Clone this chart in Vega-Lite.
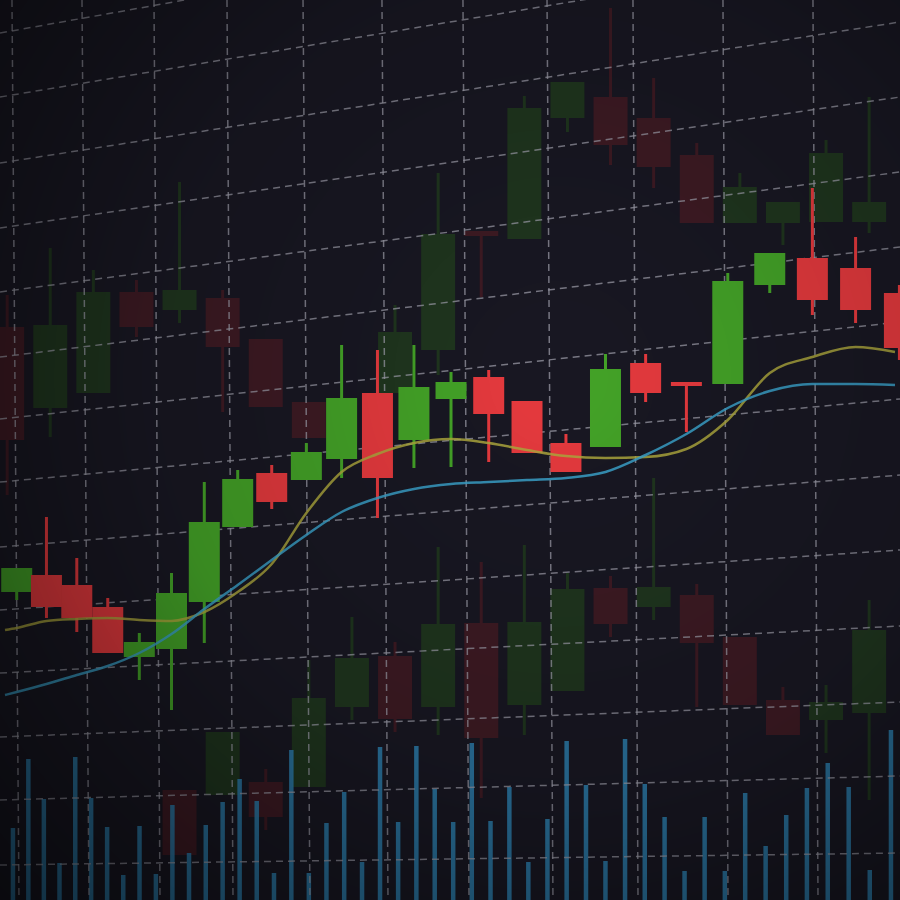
{
  "$schema": "https://vega.github.io/schema/vega-lite/v6.json",
  "width": 900,
  "height": 900,
  "padding": 0,
  "autosize": "none",
  "background": "#181722",
  "config": {"view": {"stroke": null}},
  "datasets": {
    "main": [
      {"day": 48, "open": 30.8, "close": 33.2, "high": 33.2, "low": 30.0},
      {"day": 49, "open": 32.5, "close": 29.3, "high": 38.3, "low": 28.2},
      {"day": 50, "open": 31.5, "close": 28.2, "high": 34.2, "low": 26.8},
      {"day": 51, "open": 29.3, "close": 24.7, "high": 30.2, "low": 24.7},
      {"day": 52, "open": 24.3, "close": 25.8, "high": 26.7, "low": 22.0},
      {"day": 53, "open": 25.1, "close": 30.7, "high": 32.7, "low": 19.0},
      {"day": 54, "open": 29.8, "close": 37.8, "high": 41.8, "low": 25.7},
      {"day": 55, "open": 37.3, "close": 42.1, "high": 43.0, "low": 37.3},
      {"day": 56, "open": 42.7, "close": 39.8, "high": 43.5, "low": 39.1},
      {"day": 57, "open": 42.0, "close": 44.8, "high": 45.7, "low": 42.0},
      {"day": 58, "open": 44.1, "close": 50.2, "high": 55.5, "low": 42.2},
      {"day": 59, "open": 50.7, "close": 42.2, "high": 55.0, "low": 38.2},
      {"day": 60, "open": 46.0, "close": 51.3, "high": 55.5, "low": 43.2},
      {"day": 61, "open": 50.1, "close": 51.8, "high": 52.8, "low": 43.3},
      {"day": 62, "open": 52.3, "close": 48.6, "high": 53.0, "low": 43.8},
      {"day": 63, "open": 49.9, "close": 44.7, "high": 49.9, "low": 44.7},
      {"day": 64, "open": 45.7, "close": 42.8, "high": 46.6, "low": 42.8},
      {"day": 65, "open": 45.3, "close": 53.1, "high": 54.6, "low": 45.3},
      {"day": 66, "open": 53.7, "close": 50.7, "high": 54.6, "low": 49.8},
      {"day": 67, "open": 51.8, "close": 51.4, "high": 51.8, "low": 46.8},
      {"day": 68, "open": 51.6, "close": 61.9, "high": 62.7, "low": 51.6},
      {"day": 69, "open": 61.5, "close": 64.7, "high": 64.7, "low": 60.7},
      {"day": 70, "open": 64.2, "close": 60.0, "high": 71.2, "low": 58.5},
      {"day": 71, "open": 63.2, "close": 59.0, "high": 66.3, "low": 57.7},
      {"day": 72, "open": 60.7, "close": 55.2, "high": 61.5, "low": 54.0}
    ],
    "faded": [
      {"slot": 0, "open": 57.3, "close": 46.0, "high": 60.5, "low": 40.5},
      {"slot": 1, "open": 49.2, "close": 57.5, "high": 65.2, "low": 46.3},
      {"slot": 2, "open": 50.7, "close": 60.8, "high": 63.0, "low": 50.7},
      {"slot": 3, "open": 60.8, "close": 57.3, "high": 62.0, "low": 56.3},
      {"slot": 4, "open": 59.0, "close": 61.0, "high": 71.8, "low": 57.7},
      {"slot": 5, "open": 60.2, "close": 55.3, "high": 61.0, "low": 48.8},
      {"slot": 6, "open": 56.1, "close": 49.3, "high": 56.1, "low": 49.3},
      {"slot": 7, "open": 49.8, "close": 46.2, "high": 49.8, "low": 46.2},
      {"slot": 9, "open": 50.7, "close": 56.8, "high": 59.5, "low": 50.7},
      {"slot": 10, "open": 55.0, "close": 66.6, "high": 72.7, "low": 52.5},
      {"slot": 11, "open": 66.9, "close": 66.4, "high": 66.9, "low": 60.3},
      {"slot": 12, "open": 66.1, "close": 79.2, "high": 80.4, "low": 66.1},
      {"slot": 13, "open": 78.2, "close": 81.8, "high": 81.8, "low": 76.8},
      {"slot": 14, "open": 80.3, "close": 75.5, "high": 89.2, "low": 73.5},
      {"slot": 15, "open": 78.2, "close": 73.3, "high": 82.2, "low": 71.2},
      {"slot": 16, "open": 74.5, "close": 67.7, "high": 75.7, "low": 67.7},
      {"slot": 17, "open": 67.7, "close": 71.3, "high": 72.7, "low": 67.7},
      {"slot": 18, "open": 67.7, "close": 69.8, "high": 69.8, "low": 65.5},
      {"slot": 19, "open": 67.8, "close": 74.7, "high": 76.0, "low": 67.8},
      {"slot": 20, "open": 67.8, "close": 69.8, "high": 80.3, "low": 66.7},
      {"slot": 4, "open": 11.0, "close": 4.5, "high": 11.0, "low": 4.5},
      {"slot": 5, "open": 10.5, "close": 16.8, "high": 16.8, "low": 10.5},
      {"slot": 6, "open": 11.8, "close": 8.3, "high": 13.1, "low": 7.0},
      {"slot": 7, "open": 11.3, "close": 20.2, "high": 24.0, "low": 11.3},
      {"slot": 8, "open": 19.3, "close": 24.2, "high": 28.3, "low": 18.0},
      {"slot": 9, "open": 24.4, "close": 18.1, "high": 25.8, "low": 16.8},
      {"slot": 10, "open": 19.3, "close": 27.6, "high": 35.3, "low": 16.5},
      {"slot": 11, "open": 27.7, "close": 16.2, "high": 33.8, "low": 10.2},
      {"slot": 12, "open": 19.5, "close": 27.8, "high": 35.5, "low": 16.5},
      {"slot": 13, "open": 20.9, "close": 31.1, "high": 32.7, "low": 20.9},
      {"slot": 14, "open": 31.2, "close": 27.6, "high": 32.4, "low": 26.3},
      {"slot": 15, "open": 29.3, "close": 31.3, "high": 42.2, "low": 28.0},
      {"slot": 16, "open": 30.5, "close": 25.7, "high": 31.6, "low": 19.3},
      {"slot": 17, "open": 26.3, "close": 19.5, "high": 26.3, "low": 19.5},
      {"slot": 18, "open": 20.0, "close": 16.5, "high": 21.3, "low": 16.5},
      {"slot": 19, "open": 18.0, "close": 19.8, "high": 21.5, "low": 14.7},
      {"slot": 20, "open": 18.7, "close": 27.0, "high": 30.0, "low": 10.0}
    ],
    "volume": [
      {"bar": 124, "vol": 72}, {"bar": 125, "vol": 141}, {"bar": 126, "vol": 101}, {"bar": 127, "vol": 37},
      {"bar": 128, "vol": 143}, {"bar": 129, "vol": 102}, {"bar": 130, "vol": 73}, {"bar": 131, "vol": 25},
      {"bar": 132, "vol": 74}, {"bar": 133, "vol": 26}, {"bar": 134, "vol": 95}, {"bar": 135, "vol": 47},
      {"bar": 136, "vol": 75}, {"bar": 137, "vol": 98}, {"bar": 138, "vol": 121}, {"bar": 139, "vol": 99},
      {"bar": 140, "vol": 27}, {"bar": 141, "vol": 150}, {"bar": 142, "vol": 27}, {"bar": 143, "vol": 77},
      {"bar": 144, "vol": 108}, {"bar": 145, "vol": 38}, {"bar": 146, "vol": 153}, {"bar": 147, "vol": 78},
      {"bar": 148, "vol": 154}, {"bar": 149, "vol": 111}, {"bar": 150, "vol": 78}, {"bar": 151, "vol": 157},
      {"bar": 152, "vol": 79}, {"bar": 153, "vol": 113}, {"bar": 154, "vol": 38}, {"bar": 155, "vol": 81},
      {"bar": 156, "vol": 159}, {"bar": 157, "vol": 115}, {"bar": 158, "vol": 39}, {"bar": 159, "vol": 161},
      {"bar": 160, "vol": 116}, {"bar": 161, "vol": 83}, {"bar": 162, "vol": 29}, {"bar": 163, "vol": 83},
      {"bar": 164, "vol": 29}, {"bar": 165, "vol": 107}, {"bar": 166, "vol": 54}, {"bar": 167, "vol": 85},
      {"bar": 168, "vol": 112}, {"bar": 169, "vol": 137}, {"bar": 170, "vol": 113}, {"bar": 171, "vol": 30},
      {"bar": 172, "vol": 170}
    ],
    "ma": [
      {"day": 47.6, "value": 27.0, "series": "MA slow"}, {"day": 48, "value": 27.2, "series": "MA slow"},
      {"day": 49, "value": 27.9, "series": "MA slow"}, {"day": 50, "value": 28.1, "series": "MA slow"},
      {"day": 51, "value": 28.2, "series": "MA slow"}, {"day": 52, "value": 28.0, "series": "MA slow"},
      {"day": 53, "value": 27.9, "series": "MA slow"}, {"day": 54, "value": 28.8, "series": "MA slow"},
      {"day": 55, "value": 30.8, "series": "MA slow"}, {"day": 56, "value": 33.6, "series": "MA slow"},
      {"day": 57, "value": 38.7, "series": "MA slow"}, {"day": 58, "value": 42.8, "series": "MA slow"},
      {"day": 59, "value": 44.6, "series": "MA slow"}, {"day": 60, "value": 45.7, "series": "MA slow"},
      {"day": 61, "value": 46.1, "series": "MA slow"}, {"day": 62, "value": 45.7, "series": "MA slow"},
      {"day": 63, "value": 45.0, "series": "MA slow"}, {"day": 64, "value": 44.4, "series": "MA slow"},
      {"day": 65, "value": 44.2, "series": "MA slow"}, {"day": 66, "value": 44.3, "series": "MA slow"},
      {"day": 67, "value": 45.1, "series": "MA slow"}, {"day": 68, "value": 48.0, "series": "MA slow"},
      {"day": 69, "value": 52.7, "series": "MA slow"}, {"day": 70, "value": 54.3, "series": "MA slow"},
      {"day": 71, "value": 55.3, "series": "MA slow"}, {"day": 71.9, "value": 54.8, "series": "MA slow"},
      {"day": 47.6, "value": 20.5, "series": "MA fast"}, {"day": 48, "value": 20.8, "series": "MA fast"},
      {"day": 49, "value": 21.6, "series": "MA fast"}, {"day": 50, "value": 22.5, "series": "MA fast"},
      {"day": 51, "value": 23.4, "series": "MA fast"}, {"day": 52, "value": 24.7, "series": "MA fast"},
      {"day": 53, "value": 26.6, "series": "MA fast"}, {"day": 54, "value": 29.1, "series": "MA fast"},
      {"day": 55, "value": 31.5, "series": "MA fast"}, {"day": 56, "value": 34.0, "series": "MA fast"},
      {"day": 57, "value": 36.5, "series": "MA fast"}, {"day": 58, "value": 38.8, "series": "MA fast"},
      {"day": 59, "value": 40.2, "series": "MA fast"}, {"day": 60, "value": 41.1, "series": "MA fast"},
      {"day": 61, "value": 41.6, "series": "MA fast"}, {"day": 62, "value": 41.8, "series": "MA fast"},
      {"day": 63, "value": 42.0, "series": "MA fast"}, {"day": 64, "value": 42.2, "series": "MA fast"},
      {"day": 65, "value": 42.8, "series": "MA fast"}, {"day": 66, "value": 44.5, "series": "MA fast"},
      {"day": 67, "value": 46.6, "series": "MA fast"}, {"day": 68, "value": 49.2, "series": "MA fast"},
      {"day": 69, "value": 50.9, "series": "MA fast"}, {"day": 70, "value": 51.6, "series": "MA fast"},
      {"day": 71, "value": 51.6, "series": "MA fast"}, {"day": 71.9, "value": 51.5, "series": "MA fast"}
    ],
    "grid": [
      {"gx1": 0, "gy1": 96.33, "gx2": 100, "gy2": 114.22},
      {"gx1": 0, "gy1": 89.22, "gx2": 100, "gy2": 105.89},
      {"gx1": 0, "gy1": 81.89, "gx2": 100, "gy2": 97.56},
      {"gx1": 0, "gy1": 74.67, "gx2": 100, "gy2": 89.22},
      {"gx1": 0, "gy1": 67.56, "gx2": 100, "gy2": 80.89},
      {"gx1": 0, "gy1": 60.33, "gx2": 100, "gy2": 72.56},
      {"gx1": 0, "gy1": 53.44, "gx2": 100, "gy2": 64.22},
      {"gx1": 0, "gy1": 46.44, "gx2": 100, "gy2": 55.67},
      {"gx1": 0, "gy1": 39.22, "gx2": 100, "gy2": 47.22},
      {"gx1": 0, "gy1": 32.22, "gx2": 100, "gy2": 38.89},
      {"gx1": 0, "gy1": 25.22, "gx2": 100, "gy2": 30.44},
      {"gx1": 0, "gy1": 18.11, "gx2": 100, "gy2": 22.0},
      {"gx1": 0, "gy1": 11.11, "gx2": 100, "gy2": 13.78},
      {"gx1": 0, "gy1": 3.89, "gx2": 100, "gy2": 5.22},
      {"gx1": 1.33, "gy1": 100, "gx2": 2.11, "gy2": 0},
      {"gx1": 9.11, "gy1": 100, "gx2": 9.89, "gy2": 0},
      {"gx1": 17.11, "gy1": 100, "gx2": 17.78, "gy2": 0},
      {"gx1": 25.22, "gy1": 100, "gx2": 25.89, "gy2": 0},
      {"gx1": 33.67, "gy1": 100, "gx2": 34.44, "gy2": 0},
      {"gx1": 42.44, "gy1": 100, "gx2": 43.11, "gy2": 0},
      {"gx1": 51.44, "gy1": 100, "gx2": 52.11, "gy2": 0},
      {"gx1": 60.78, "gy1": 100, "gx2": 61.44, "gy2": 0},
      {"gx1": 70.33, "gy1": 100, "gx2": 70.89, "gy2": 0},
      {"gx1": 80.33, "gy1": 100, "gx2": 80.89, "gy2": 0},
      {"gx1": 90.33, "gy1": 100, "gx2": 90.89, "gy2": 0}
    ]
  },
  "layer": [
    {
      "data": {"name": "faded"},
      "layer": [
        {
          "mark": {"type": "rule", "strokeWidth": 3},
          "encoding": {
            "x": {"field": "slot", "type": "quantitative", "axis": null, "scale": {"domain": [-0.05, 20.6], "nice": false, "zero": false}},
            "y": {"field": "high", "type": "quantitative", "axis": null, "scale": {"domain": [0, 90], "nice": false, "zero": false}},
            "y2": {"field": "low"},
            "color": {"condition": {"test": "datum.close > datum.open", "value": "#1f351e"}, "value": "#3d1a23"}
          }
        },
        {
          "mark": {"type": "bar", "size": 34},
          "encoding": {
            "x": {"field": "slot", "type": "quantitative"},
            "y": {"field": "open", "type": "quantitative"},
            "y2": {"field": "close"},
            "color": {"condition": {"test": "datum.close > datum.open", "value": "#1f351e"}, "value": "#3d1a23"}
          }
        }
      ]
    },
    {
      "data": {"name": "volume"},
      "mark": {"type": "bar", "size": 4.5, "color": "#2c7cab", "opacity": 0.9},
      "encoding": {
        "x": {"field": "bar", "type": "quantitative", "axis": null, "scale": {"type": "pow", "exponent": 2, "domain": [123.48, 172.19], "nice": false, "zero": false}},
        "y": {"field": "vol", "type": "quantitative", "axis": null, "scale": {"domain": [0, 900], "nice": false}}
      }
    },
    {
      "data": {"name": "grid"},
      "mark": {"type": "rule", "stroke": "#9a9aa6", "strokeWidth": 1.5, "strokeDash": [7, 5], "opacity": 0.75, "clip": true},
      "encoding": {
        "x": {"field": "gx1", "type": "quantitative", "axis": null, "scale": {"domain": [0, 100], "nice": false, "zero": false}},
        "y": {"field": "gy1", "type": "quantitative", "axis": null, "scale": {"domain": [0, 100], "nice": false, "zero": false}},
        "x2": {"field": "gx2"},
        "y2": {"field": "gy2"}
      }
    },
    {
      "layer": [
        {
          "data": {"name": "main"},
          "mark": {"type": "rule", "strokeWidth": 3},
          "encoding": {
            "x": {"field": "day", "type": "quantitative", "axis": null, "scale": {"type": "pow", "exponent": 2, "domain": [47.6, 71.9], "nice": false, "zero": false}},
            "y": {"field": "high", "type": "quantitative", "axis": null, "scale": {"domain": [0, 90], "nice": false, "zero": false}},
            "y2": {"field": "low"},
            "color": {"condition": {"test": "datum.close > datum.open", "value": "#43a127"}, "value": "#e3393d"}
          }
        },
        {
          "data": {"name": "main"},
          "mark": {"type": "bar", "size": 31},
          "encoding": {
            "x": {"field": "day", "type": "quantitative"},
            "y": {"field": "open", "type": "quantitative"},
            "y2": {"field": "close"},
            "color": {"condition": {"test": "datum.close > datum.open", "value": "#43a127"}, "value": "#e3393d"}
          }
        },
        {
          "data": {"name": "ma"},
          "mark": {"type": "line", "interpolate": "monotone", "strokeWidth": 2.5, "opacity": 0.85},
          "encoding": {
            "x": {"field": "day", "type": "quantitative"},
            "y": {"field": "value", "type": "quantitative"},
            "color": {"field": "series", "type": "nominal", "legend": null, "scale": {"domain": ["MA slow", "MA fast"], "range": ["#aaa53c", "#3aa0c8"]}}
          }
        }
      ]
    },
    {
      "data": {"values": [{"v": 1}]},
      "mark": {
        "type": "rect",
        "fill": {
          "gradient": "radial",
          "x1": 0.62, "y1": 0.42, "r1": 0.05,
          "x2": 0.62, "y2": 0.42, "r2": 0.85,
          "stops": [
            {"offset": 0, "color": "rgba(0,0,0,0)"},
            {"offset": 0.5, "color": "rgba(0,0,0,0.15)"},
            {"offset": 1, "color": "rgba(0,0,0,0.6)"}
          ]
        }
      },
      "encoding": {}
    }
  ],
  "resolve": {"scale": {"x": "independent", "y": "independent", "color": "independent"}}
}
